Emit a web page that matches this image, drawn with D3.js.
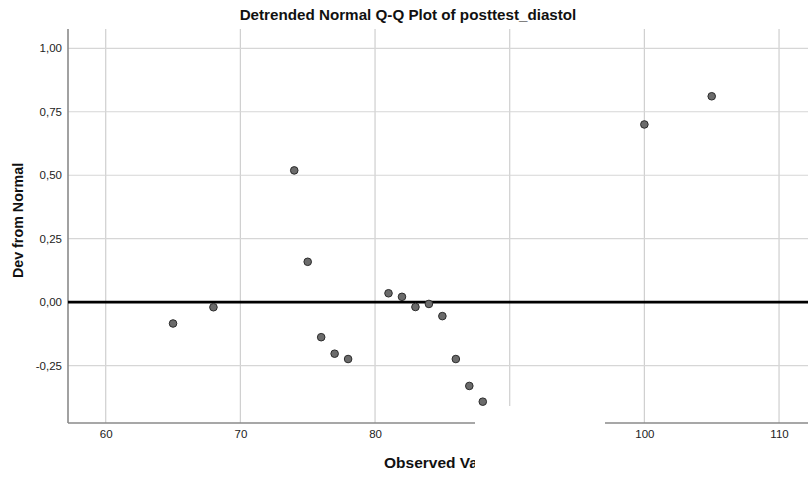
<html>
<head>
<meta charset="utf-8">
<script src="https://cdn.jsdelivr.net/npm/d3@7"></script>
<style>
  body { margin: 0; background: #fff; }
  text { font-family: "Liberation Sans", Arial, sans-serif; }
</style>
</head>
<body>
<script>
  // observed values and their deviation from normal
  var observed = [65, 68, 74, 75, 76, 77, 78, 81, 82, 83, 84, 85, 86, 87, 88, 100, 105];
  var deviation = [-0.084, -0.02, 0.519, 0.159, -0.138, -0.203, -0.224, 0.035, 0.021, -0.019, -0.007, -0.055, -0.224, -0.33, -0.392, 0.70, 0.811];
  var xTicks = [60, 70, 80, 90, 100, 110];
  var yTicks = [-0.25, 0, 0.25, 0.5, 0.75, 1.0];

  var width = 808, height = 477;
  var plotLeft = 68, plotRight = 808, plotTop = 29, plotBottom = 423;

  var svg = d3.select("body").append("svg")
      .attr("width", width)
      .attr("height", height);

  var x = d3.scaleLinear().domain([57.2, 112.15]).range([plotLeft, plotRight]);
  var y = d3.scaleLinear().domain([-0.476, 1.076]).range([plotBottom, plotTop]);

  var fmt = d3.formatLocale({decimal: ",", thousands: ".", grouping: [3], currency: ["", ""], minus: "-"}).format(".2f");

  // grid
  svg.selectAll(".vgrid").data(xTicks).enter().append("line")
      .attr("x1", function(d){ return x(d); })
      .attr("x2", function(d){ return x(d); })
      .attr("y1", plotTop).attr("y2", plotBottom)
      .attr("stroke", "#cfcfcf").attr("stroke-width", 1.2);

  svg.selectAll(".hgrid").data(yTicks).enter().append("line")
      .attr("x1", plotLeft).attr("x2", plotRight)
      .attr("y1", function(d){ return y(d); })
      .attr("y2", function(d){ return y(d); })
      .attr("stroke", "#d6d6d6").attr("stroke-width", 1.2);

  // axes
  var yAxis = svg.append("g")
      .attr("transform", "translate(" + plotLeft + ",0)")
      .call(d3.axisLeft(y).tickValues(yTicks).tickFormat(fmt).tickSize(0).tickPadding(6));
  var xAxis = svg.append("g")
      .attr("transform", "translate(0," + plotBottom + ")")
      .call(d3.axisBottom(x).tickValues(xTicks).tickFormat(d3.format("d")).tickSize(0).tickPadding(7));

  [yAxis, xAxis].forEach(function(g){
    g.select(".domain").attr("stroke", "#8a8a8a").attr("stroke-width", 1.6);
    g.selectAll("text").attr("font-size", "11.5px").attr("fill", "#222")
        .style("font-family", "'Liberation Sans', Arial, sans-serif");
  });
  yAxis.select(".domain").attr("d", "M0," + plotTop + "V" + plotBottom);
  xAxis.select(".domain").attr("d", "M" + plotLeft + ",0H" + plotRight);

  // zero reference line
  svg.append("line")
      .attr("x1", plotLeft).attr("x2", plotRight)
      .attr("y1", y(0)).attr("y2", y(0))
      .attr("stroke", "#000").attr("stroke-width", 2.8);

  // points
  svg.selectAll("circle").data(observed).enter().append("circle")
      .attr("cx", function(d){ return x(d); })
      .attr("cy", function(d, i){ return y(deviation[i]); })
      .attr("r", 3.8)
      .attr("fill", "#6b6b6b")
      .attr("stroke", "#2b2b2b")
      .attr("stroke-width", 1);

  // titles
  svg.append("text")
      .attr("x", 408).attr("y", 20)
      .attr("text-anchor", "middle")
      .attr("font-size", "15.2px").attr("font-weight", "bold")
      .attr("fill", "#111")
      .text("Detrended Normal Q-Q Plot of posttest_diastol");

  svg.append("text")
      .attr("transform", "translate(23,220.5) rotate(-90)")
      .attr("text-anchor", "middle")
      .attr("font-size", "14.3px").attr("font-weight", "bold")
      .attr("fill", "#111")
      .text("Dev from Normal");

  svg.append("text")
      .attr("x", 384).attr("y", 468)
      .attr("font-size", "15.5px").attr("font-weight", "bold")
      .attr("fill", "#111")
      .text("Observed Value");

  // white patch covering part of the lower axis, as in the source image
  svg.append("rect")
      .attr("x", 475).attr("y", 406)
      .attr("width", 130).attr("height", 71)
      .attr("fill", "#fff");
</script>
</body>
</html>
